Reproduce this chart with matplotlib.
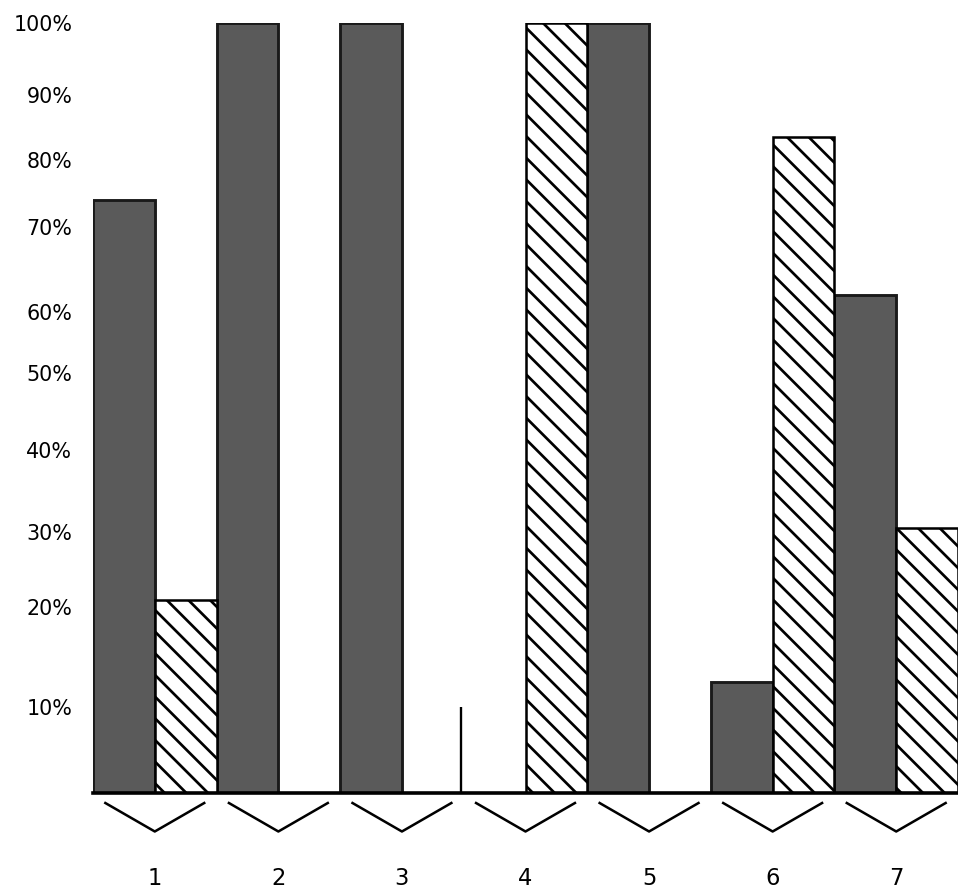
import numpy as np
import matplotlib
matplotlib.use("Agg")
import matplotlib.pyplot as plt
import matplotlib.transforms as mtransforms

# ---- data ----
categories = ["1", "2", "3", "4", "5", "6", "7"]
dark_values = [74, 100, 100, 0, 100, 12.5, 62]
hatched_values = [21, 0, 0, 100, 0, 83.5, 30.5]
stub_value = 10           # thin marker line drawn in group 4
stub_group = 3
tick_values = [10, 20, 30, 40, 50, 60, 70, 80, 90, 100]
tick_labels = [f"{v}%" for v in tick_values]

# hand-drawn (non-uniform) axis calibration: value -> height above baseline (px)
cal_values = np.array([0, 10, 20, 30, 40, 50, 60, 70, 80, 90, 100], float)
cal_height = np.array([0, 86, 186, 261, 343, 420, 481, 566, 633, 698, 770], float)

def fwd(v):
    return np.interp(v, cal_values, cal_height)

def inv(h):
    return np.interp(h, cal_height, cal_values)

plt.rcParams["font.family"] = ["DejaVu Sans"]
plt.rcParams["hatch.linewidth"] = 1.5

DPI = 130
fig = plt.figure(figsize=(958 / DPI, 893 / DPI), dpi=DPI)
ax = fig.add_axes([93 / 958, 100 / 893, 865 / 958, 770 / 893])
ax.set_yscale("function", functions=(fwd, inv))

x = np.arange(len(categories))
w = 0.5
ax.bar(x - w / 2, dark_values, width=w, color="#5a5a5a", edgecolor="#1a1a1a",
       linewidth=1.6, zorder=2)
ax.bar(x + w / 2, hatched_values, width=w, color="white", edgecolor="black",
       hatch=r"\\", linewidth=1.4, zorder=2)

# thin stub line in group 4
ax.vlines(stub_group - w - 0.02, 0, stub_value, color="black", lw=1.3, zorder=3)

ax.set_xlim(-0.5, len(categories) - 0.5)
ax.set_ylim(0, 100)

for s in ["top", "right", "left"]:
    ax.spines[s].set_visible(False)
ax.spines["bottom"].set_linewidth(2.0)
ax.spines["bottom"].set_zorder(4)

ax.set_yticks(tick_values)
ax.set_yticklabels(tick_labels, fontsize=11.4)
ax.tick_params(axis="y", length=0, pad=11.5)
ax.set_xticks(x)
ax.set_xticklabels(categories, fontsize=12.5)
ax.tick_params(axis="x", length=0, pad=41)

# chevron brackets under each group
trans = mtransforms.blended_transform_factory(ax.transData, ax.transAxes)
for xi in x:
    ax.plot([xi - 0.40, xi, xi + 0.40], [-0.013, -0.050, -0.013],
            color="black", lw=1.4, transform=trans, clip_on=False)

fig.savefig("out.png", dpi=DPI)
